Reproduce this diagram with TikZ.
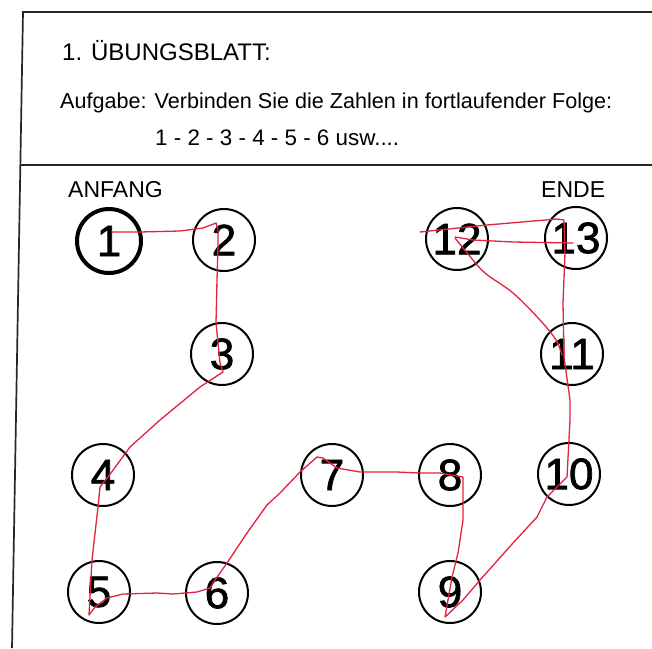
\documentclass[tikz,border=0pt]{standalone}
\usepackage{fontspec}
\setmainfont{Liberation Sans}
\newfontfamily\digitfont[FakeBold=1.6]{Liberation Sans}
\definecolor{penred}{RGB}{226,35,62}
\begin{document}
\begin{tikzpicture}[x=1pt,y=-1pt,
  frame/.style={line width=1.7pt, black!85},
  numc/.style={circle, draw, line width=2pt, minimum size=62pt, inner sep=0pt,
    font=\digitfont\fontsize{44}{44}\selectfont},
  startc/.style={numc, line width=4pt, minimum size=64pt},
  scribble/.style={draw=penred, line width=1.3pt, line join=round, line cap=round},
  lbl/.style={anchor=base west, inner sep=0pt}]
\useasboundingbox (0,0) rectangle (652,648);
\fill[white] (0,0) rectangle (652,648);
% frame
\coordinate (tl) at (23,12);
\coordinate (tr) at (652,12);
\coordinate (bl) at (12,648);
\coordinate (ml) at (20.4,165);
\coordinate (mr) at (652,165);
\draw[frame] (tr) -- (tl) -- (bl);
\draw[frame] (ml) -- (mr);
% header texts
\node[lbl, font=\fontsize{24}{24}\selectfont] (title) at (62,60) {1. ÜBUNGSBLATT:};
\node[lbl, font=\fontsize{21.6}{22}\selectfont] (task) at (60,108) {Aufgabe: Verbinden Sie die Zahlen in fortlaufender Folge:};
\node[lbl, font=\fontsize{22.4}{22}\selectfont] (seq) at (155,145) {1 - 2 - 3 - 4 - 5 - 6 usw....};
\node[lbl, font=\fontsize{23}{23}\selectfont] (anf) at (68,197) {ANFANG};
\node[lbl, font=\fontsize{23}{23}\selectfont] (ende) at (541,197) {ENDE};
% numbered circles
\node[startc] (n1) at (109,241) {1};
\node[numc] (n2) at (224,240) {2};
\node[numc] (n3) at (222,354) {3};
\node[numc] (n4) at (103,475) {4};
\node[numc] (n5) at (99,592) {5};
\node[numc] (n6) at (217,593) {6};
\node[numc] (n7) at (332,475) {7};
\node[numc] (n8) at (450,475) {8};
\node[numc] (n9) at (450,592) {9};
\node[numc] (n10) at (569,474) {10};
\node[numc] (n11) at (572,354) {11};
\node[numc] (n12) at (457,239) {12};
\node[numc] (n13) at (576,238) {13};
% hand-drawn red line
\draw[scribble] (112,232) -- (140,232) -- (180,231) -- (203,228) -- (216,223) -- (218,230)
  -- (218,245) -- (217,280) -- (216,323) -- (220,363) -- (223,372) -- (200,387)
  -- (160,420) -- (130,447) -- (108,477) -- (100,487) -- (98,507) -- (92,560) -- (89,615)
  -- (95,607) -- (107,598) -- (123,594) -- (157,593) -- (173,594) -- (197,592) -- (210,588)
  -- (215,580) -- (227,563) -- (247,533) -- (267,505) -- (280,493) -- (300,472) -- (317,457)
  -- (323,458) -- (337,468) -- (360,472) -- (397,472) -- (420,473) -- (440,473) -- (463,477)
  -- (463,520) -- (458,553) -- (452,577) -- (445,617) -- (463,600) -- (480,580) -- (513,543)
  -- (537,517) -- (547,497) -- (567,477) -- (570,420) -- (570,400) -- (564,357) -- (563,303)
  -- (565,253) -- (564,220) -- (557,219) -- (487,225) -- (420,232);
\draw[scribble] (455,237) -- (473,240) -- (513,242) -- (573,243);
\draw[scribble] plot[smooth, tension=0.6] coordinates {(455,238) (468,254) (485,273) (513,293) (540,320) (556,340) (562,355)};
\end{tikzpicture}
\end{document}
